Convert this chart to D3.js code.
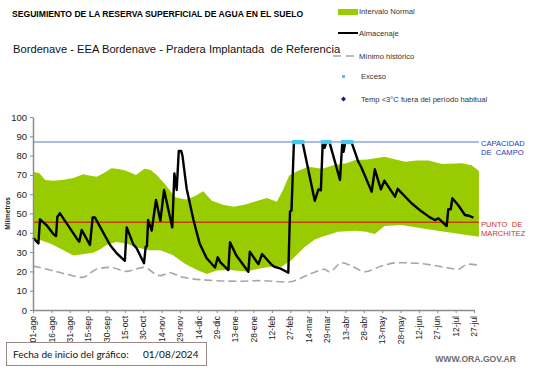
<!DOCTYPE html>
<html>
<head>
<meta charset="utf-8">
<script src="https://cdn.jsdelivr.net/npm/d3@7"></script>
<style>
  body { margin: 0; background: #fff; }
  text { font-family: "Liberation Sans", Arial, sans-serif; }
</style>
</head>
<body>
<div id="chart"></div>
<script>
// Serie diaria, dias contados desde 01/08/2024
const tickDias = [0, 15, 30, 45, 60, 75, 90, 105, 120, 135, 150, 165, 180, 195, 210, 225, 240, 255, 270, 285, 300, 315, 330, 345, 360];
const tickLabels = ['01-ago', '16-ago', '31-ago', '15-sep', '30-sep', '15-oct', '30-oct', '14-nov', '29-nov', '14-dic', '29-dic', '13-ene', '28-ene',
  '12-feb', '27-feb', '14-mar', '29-mar', '13-abr', '28-abr', '13-may', '28-may', '12-jun', '27-jun', '12-jul', '27-jul'];

// Intervalo normal (limite superior e inferior)
const supDias = [0, 5, 10, 17, 25, 33, 41, 47, 52, 58, 64, 70, 76, 84, 91, 96, 101, 108, 116, 125, 132, 139, 146, 155, 164, 174, 182, 191, 199, 204, 209, 216, 225, 236, 246, 256, 263, 273, 287, 296, 304, 313, 323, 334, 350, 358, 364];
const supValores = [71.5, 71, 67.4, 67, 67.5, 68.4, 70.3, 69.5, 69, 71, 73.4, 73, 72.2, 70, 73.2, 72.5, 70, 65, 58.4, 57.3, 59, 61.5, 56.6, 54.5, 53.5, 54.8, 56.3, 58, 56.1, 62, 69.5, 72, 74.2, 73.2, 75.1, 76, 77.7, 78, 79.4, 78, 76.8, 77.5, 77.4, 75.6, 76, 75, 72];
const infDias = [0, 7, 14, 25, 33, 42, 49, 55, 60, 68, 76, 84, 95, 104, 114, 124, 134, 142, 150, 161, 174, 185, 195, 203, 211, 222, 230, 236, 249, 263, 272, 279, 287, 301, 317, 336, 350, 364];
const infValores = [37, 36, 34.5, 31, 28.2, 29, 29.7, 31.5, 33.7, 35.2, 34.5, 32.5, 31, 31, 28.5, 24, 20.7, 18.6, 20.5, 20.7, 20, 21.5, 22.5, 22.4, 25.9, 32.8, 36.5, 38, 40.6, 41.1, 40.5, 39.4, 43.5, 44, 42.3, 40.6, 39.2, 38];

// Almacenaje
const almDias = [0, 4.4, 5.7, 11, 16.6, 18.8, 19.9, 22, 35.7, 37.8, 39.7, 46.5, 48.7, 50.5, 62.9, 68.3, 75, 76.5, 81.9, 84.6, 90.6, 92, 93, 94, 96.9, 100.4, 104, 107, 113.7, 115.4, 117.3, 119, 121, 122, 125.4, 131, 136, 141.8, 148.6, 150.8, 153, 159.5, 160.8, 166, 175.8, 177, 182.6, 184, 187, 195, 197, 201.6, 208.4, 209.8, 211, 213, 220, 230, 233, 235, 236.5, 238, 239.5, 242, 250.6, 252.5, 253.5, 255, 260, 265.6, 267.8, 276.5, 279, 284, 286.8, 295.5, 297.7, 309, 317.3, 324, 328, 331, 337.7, 339, 341, 342.3, 347, 352.6, 356.7, 359.5];
const almValores = [37.5, 34.5, 47, 44, 39.4, 38.3, 48.3, 50.1, 37.1, 35.4, 41.5, 33.7, 48, 48, 33.7, 29.4, 25.5, 42.8, 34, 32, 24.2, 32.8, 33, 46.6, 41.1, 57, 46.3, 62.2, 42.8, 70.8, 62.2, 82.4, 82.4, 80, 63, 46.6, 34.5, 26.8, 22, 27.3, 24.7, 20.7, 35.1, 28.2, 19.8, 30.2, 25, 23.8, 29, 23.3, 22.4, 21.6, 19.3, 51, 51.5, 87, 87, 56.6, 62.5, 62, 87, 84, 87, 87, 67.4, 87, 82, 87, 87, 76.8, 74.2, 61.3, 72.9, 62.5, 67, 58.7, 62.8, 55.3, 51, 48, 46.6, 47.5, 43.5, 52.2, 52.2, 57.9, 54.4, 49.2, 48.7, 47.8];

// Minimo historico
const minDias = [0, 14, 27.5, 41, 46.5, 52, 63, 76.5, 90, 103.7, 112, 120, 141.8, 166, 185, 208.4, 227.5, 238, 242, 252, 260, 271, 284.6, 298, 314.5, 333.6, 347, 355, 364];
const minValores = [22.8, 20.7, 18.5, 16.9, 19, 21.2, 22.1, 20, 22.1, 17.8, 19.3, 17.3, 15.5, 14.9, 15.2, 14.5, 19, 21.1, 19.8, 24.5, 22.8, 19.8, 22.8, 24.5, 24.2, 22.4, 21.1, 23.8, 23.2];

// Exceso (dias en capacidad de campo)
const excesoDias = [213, 214, 215, 216, 217, 218, 219, 220, 236.5, 239.5, 240.5, 242, 253, 255, 256.5, 258, 260];

const capacidadCampo = 87;
const puntoMarchitez = 45.5;

const width = 541;
const height = 368;

const svg = d3.select('#chart').append('svg')
  .attr('width', width)
  .attr('height', height);

svg.append('rect')
  .attr('width', width)
  .attr('height', height)
  .attr('fill', '#fff');

const x = d3.scaleLinear().domain([0, 360]).range([33, 474]);
const y = d3.scaleLinear().domain([0, 100]).range([310, 117]);

// Banda del intervalo normal: borde superior y luego inferior al reves
const banda = supDias.map((d, i) => [d, supValores[i]])
  .concat(infDias.map((d, i) => [d, infValores[i]]).reverse());
const line = d3.line().x((d) => x(d[0])).y((d) => y(d[1]));

svg.append('path')
  .attr('d', line(banda) + 'Z')
  .attr('fill', '#99cc00');

// Capacidad de campo y punto de marchitez
svg.append('line')
  .attr('x1', x(0)).attr('x2', x(364))
  .attr('y1', y(capacidadCampo)).attr('y2', y(capacidadCampo))
  .attr('stroke', '#8ea9db')
  .attr('stroke-width', 1.5);
svg.append('line')
  .attr('x1', x(0)).attr('x2', x(364))
  .attr('y1', y(puntoMarchitez)).attr('y2', y(puntoMarchitez))
  .attr('stroke', '#c0400c')
  .attr('stroke-width', 1.5);

// Minimo historico
svg.append('path')
  .attr('d', d3.line().curve(d3.curveMonotoneX)
    .x((d) => x(d[0])).y((d) => y(d[1]))(minDias.map((d, i) => [d, minValores[i]])))
  .attr('fill', 'none')
  .attr('stroke', '#a6a6a6')
  .attr('stroke-width', 1.6)
  .attr('stroke-dasharray', '8,4');

// Almacenaje
svg.append('path')
  .attr('d', line(almDias.map((d, i) => [d, almValores[i]])))
  .attr('fill', 'none')
  .attr('stroke', '#000')
  .attr('stroke-width', 2.4)
  .attr('stroke-linejoin', 'round');

// Exceso
svg.append('g')
  .selectAll('rect')
  .data(excesoDias)
    .join('rect')
    .attr('x', (d) => x(d) - 2)
    .attr('y', y(capacidadCampo) - 2)
    .attr('width', 4)
    .attr('height', 4)
    .attr('fill', '#44c8ee');

// Ejes
const yAxis = svg.append('g')
  .attr('transform', `translate(${x(0)},0)`)
  .call(d3.axisLeft(y).tickValues(d3.range(0, 101, 10)).tickSize(3).tickPadding(3).tickSizeOuter(0));
yAxis.select('.domain').attr('stroke', '#8c8c8c').attr('stroke-width', 1.5);
yAxis.selectAll('.tick line').attr('stroke', '#8c8c8c');
yAxis.selectAll('text')
  .attr('font-size', '9.5px')
  .attr('fill', '#222')
  .style('font-family', '"Liberation Sans", Arial, sans-serif');

const xAxis = svg.append('g')
  .attr('transform', `translate(0,${y(0)})`)
  .call(d3.axisBottom(x).tickValues(tickDias).tickFormat((d, i) => tickLabels[i]).tickSize(3).tickSizeOuter(0));
xAxis.select('.domain').attr('stroke', '#8c8c8c').attr('stroke-width', 1.5);
xAxis.selectAll('.tick line').attr('stroke', '#8c8c8c');
xAxis.selectAll('text')
  .attr('font-size', '8.5px')
  .attr('fill', '#222')
  .attr('text-anchor', 'end')
  .attr('x', -6)
  .attr('y', 0)
  .attr('dy', '0.32em')
  .attr('transform', 'rotate(-90)')
  .style('font-family', '"Liberation Sans", Arial, sans-serif');

svg.append('text')
  .attr('transform', `translate(10,${y(50)}) rotate(-90)`)
  .attr('text-anchor', 'middle')
  .attr('font-size', '6.5px')
  .attr('font-weight', 'bold')
  .attr('fill', '#222')
  .text('Milímetros');

// Etiquetas de las lineas de referencia
const refLabels = [
  { t: 'CAPACIDAD', yy: y(capacidadCampo) + 4, c: '#3333bb' },
  { t: 'DE  CAMPO', yy: y(capacidadCampo) + 13, c: '#3333bb' },
  { t: 'PUNTO  DE', yy: y(puntoMarchitez) + 5, c: '#cc3333' },
  { t: 'MARCHITEZ', yy: y(puntoMarchitez) + 13.5, c: '#cc3333' },
];
svg.append('g')
  .selectAll('text')
  .data(refLabels)
    .join('text')
    .attr('x', 481)
    .attr('y', (d) => d.yy)
    .attr('font-size', '7.6px')
    .attr('fill', (d) => d.c)
    .style('white-space', 'pre')
    .text((d) => d.t);

// Titulos
svg.append('text')
  .attr('x', 12)
  .attr('y', 17)
  .attr('font-size', '8.6px')
  .attr('font-weight', 'bold')
  .attr('fill', '#000')
  .text('SEGUIMIENTO DE LA RESERVA SUPERFICIAL DE AGUA EN EL SUELO');
svg.append('text')
  .attr('x', 13)
  .attr('y', 53)
  .attr('font-size', '11.2px')
  .attr('fill', '#111')
  .style('white-space', 'pre')
  .text('Bordenave - EEA Bordenave - Pradera Implantada  de Referencia');

// Leyenda
const leg = svg.append('g');
leg.append('rect').attr('x', 338).attr('y', 9).attr('width', 20).attr('height', 6).attr('fill', '#99cc00');
leg.append('line').attr('x1', 338).attr('x2', 358).attr('y1', 33).attr('y2', 33)
  .attr('stroke', '#000').attr('stroke-width', 2);
leg.append('line').attr('x1', 333).attr('x2', 357).attr('y1', 56).attr('y2', 56)
  .attr('stroke', '#a6a6a6').attr('stroke-width', 1.6).attr('stroke-dasharray', '8,5');
leg.append('rect').attr('x', 342).attr('y', 75).attr('width', 3).attr('height', 3).attr('fill', '#44c8ee');
leg.append('path').attr('d', 'M343.5,96.5L346,99L343.5,101.5L341,99Z').attr('fill', '#1a1a8c');
const legItems = [
  { t: 'Intervalo Normal', lx: 359, ly: 14 },
  { t: 'Almacenaje', lx: 359, ly: 36 },
  { t: 'Mínimo histórico', lx: 359, ly: 58.5 },
  { t: 'Exceso', lx: 361, ly: 79 },
  { t: 'Temp <3°C fuera del período habitual', lx: 361, ly: 102 },
];
leg.selectAll('text.item')
  .data(legItems)
    .join('text')
    .attr('class', 'item')
    .attr('x', (d) => d.lx)
    .attr('y', (d) => d.ly)
    .attr('font-size', '7.6px')
    .attr('fill', '#333')
    .text((d) => d.t);

// Pie
svg.append('rect')
  .attr('x', 6.5).attr('y', 342.5)
  .attr('width', 200).attr('height', 23)
  .attr('fill', 'none')
  .attr('stroke', '#9b8a8a')
  .attr('stroke-width', 1);
svg.append('text')
  .attr('x', 13).attr('y', 358)
  .attr('font-size', '10px')
  .attr('fill', '#111')
  .style('font-family', 'Lato, "Open Sans", sans-serif')
  .text('Fecha de inicio del gráfico:');
svg.append('text')
  .attr('x', 143).attr('y', 358)
  .attr('font-size', '10px')
  .attr('fill', '#111')
  .style('font-family', 'Lato, "Open Sans", sans-serif')
  .text('01/08/2024');
svg.append('text')
  .attr('x', 516).attr('y', 362)
  .attr('text-anchor', 'end')
  .attr('font-size', '8.6px')
  .attr('font-weight', 'bold')
  .attr('fill', '#6d6d6d')
  .text('WWW.ORA.GOV.AR');
</script>
</body>
</html>
